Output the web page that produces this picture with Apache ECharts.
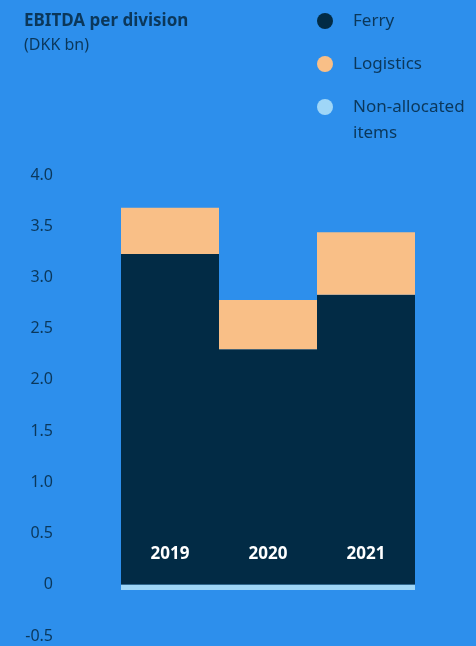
<!DOCTYPE html>
<html>
<head>
<meta charset="utf-8">
<script src="https://cdn.jsdelivr.net/npm/echarts@6/dist/echarts.min.js"></script>
<style>
html,body{margin:0;padding:0;background:#2D8FEC;}
#chart{width:476px;height:646px;}
</style>
</head>
<body>
<div id="chart"></div>
<script>
var categories = ['2019', '2020', '2021'];
var ferry = [3.23, 2.30, 2.83];
var logistics = [0.45, 0.48, 0.61];
var nonAllocated = [-0.05, -0.05, -0.05];
var seriesNames = ['Ferry', 'Logistics', 'Non-allocated items'];
var legendLabels = ['Ferry', 'Logistics', 'Non-allocated\nitems'];

var colors = ['#022B45', '#F9BF87', '#9FD6F7'];
var textColor = '#0B375A';
var font = 'Noto Sans';

var legendGraphics = [];
var legendY = [21, 64, 107];
for (var i = 0; i < legendLabels.length; i++) {
  legendGraphics.push({
    type: 'circle', shape: {cx: 325, cy: legendY[i], r: 8},
    style: {fill: colors[i]}, silent: true
  });
  legendGraphics.push({
    type: 'text', x: 353, y: legendY[i] - 13,
    style: {text: legendLabels[i], fill: textColor, font: '17px "' + font + '"', lineHeight: 26, verticalAlign: 'top'},
    silent: true
  });
}

var chart = echarts.init(document.getElementById('chart'));
chart.setOption({
  backgroundColor: '#2D8FEC',
  animation: false,
  textStyle: {fontFamily: font},
  title: {
    text: 'EBITDA per division',
    subtext: '(DKK bn)',
    left: 24, top: 13, padding: 0,
    itemGap: 7,
    textStyle: {fontFamily: font, fontSize: 17, fontWeight: 'bold', color: textColor},
    subtextStyle: {fontFamily: font, fontSize: 16, color: textColor}
  },
  graphic: legendGraphics,
  grid: {left: 121, right: 61, top: 175, bottom: 10, containLabel: false},
  xAxis: {
    type: 'category',
    data: categories,
    axisLine: {show: false}, axisTick: {show: false}, axisLabel: {show: false}
  },
  yAxis: {
    type: 'value',
    min: -0.5, max: 4.0, interval: 0.5,
    splitLine: {show: false},
    axisLine: {show: false}, axisTick: {show: false},
    axisLabel: {
      margin: 68, color: textColor, fontSize: 16, fontFamily: font,
      formatter: function (v) { return v === 0 ? '0' : v.toFixed(1); }
    }
  },
  series: [
    {
      name: seriesNames[0], type: 'bar', stack: 'a', data: ferry,
      barWidth: '100%', barCategoryGap: '0%',
      itemStyle: {color: colors[0]},
      label: {show: true, position: 'insideBottom', distance: 22, formatter: '{b}', color: '#FFFFFF', fontWeight: 'bold', fontSize: 17, fontFamily: font}
    },
    {
      name: seriesNames[1], type: 'bar', stack: 'a', data: logistics,
      barWidth: '100%',
      itemStyle: {color: colors[1]}
    },
    {
      name: seriesNames[2], type: 'bar', stack: 'a', data: nonAllocated,
      barWidth: '100%',
      itemStyle: {color: colors[2]}
    }
  ]
});
</script>
</body>
</html>
